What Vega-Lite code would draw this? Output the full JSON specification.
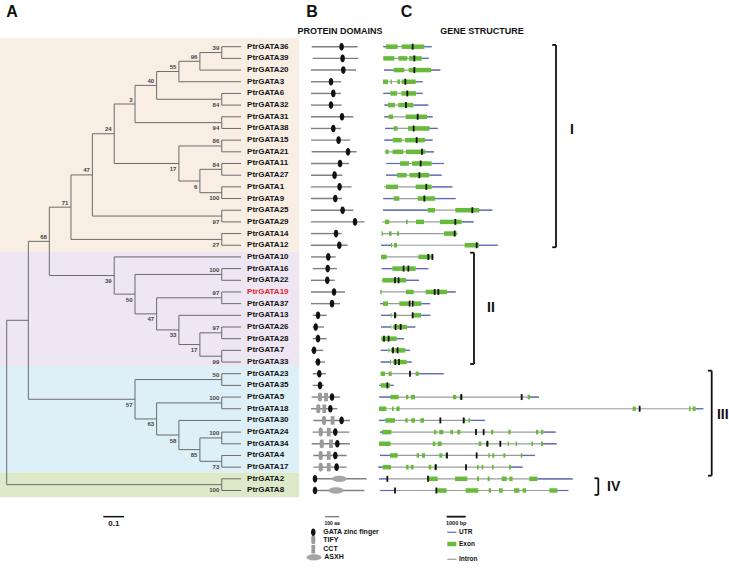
{
"$schema":"https://vega.github.io/schema/vega-lite/v6.json",
"width":729,"height":574,"padding":0,"autosize":{"type":"none"},"background":"white",
"config":{"view":{"stroke":null},"text":{"font":"Liberation Sans","fontWeight":"bold","baseline":"middle","color":"#111"}},
"datasets":{
"bands":[{"clade":"I","x":-0.032,"x2":1.393,"y":0.28,"y2":18.55},{"clade":"II","x":-0.032,"x2":1.393,"y":18.55,"y2":28.35},{"clade":"III","x":-0.032,"x2":1.393,"y":28.35,"y2":37.45},{"clade":"IV","x":-0.032,"x2":1.393,"y":37.45,"y2":39.58}],
"hedges":[{"x":0.92,"x2":1.024,"y":1.5},{"x":0.82,"x2":0.92,"y":2.25},{"x":0.714,"x2":0.82,"y":3.125},{"x":0.714,"x2":1.024,"y":5.5},{"x":0.611,"x2":0.714,"y":4.3125},{"x":0.611,"x2":1.024,"y":7.5},{"x":0.92,"x2":1.024,"y":11.5},{"x":0.92,"x2":1.024,"y":13.5},{"x":0.82,"x2":1.024,"y":9.5},{"x":0.82,"x2":0.92,"y":12.5},{"x":0.512,"x2":0.611,"y":5.906},{"x":0.512,"x2":0.82,"y":11.0},{"x":0.408,"x2":0.512,"y":8.453},{"x":0.408,"x2":1.024,"y":15.5},{"x":0.306,"x2":0.408,"y":11.977},{"x":0.306,"x2":1.024,"y":17.5},
{"x":0.92,"x2":1.024,"y":25.5},{"x":0.92,"x2":1.024,"y":27.5},{"x":0.82,"x2":0.92,"y":26.5},{"x":0.714,"x2":1.024,"y":22.5},{"x":0.714,"x2":0.82,"y":25.25},{"x":0.611,"x2":1.024,"y":20.5},{"x":0.611,"x2":0.714,"y":23.875},{"x":0.512,"x2":0.611,"y":22.188},{"x":0.203,"x2":0.306,"y":14.738},{"x":0.203,"x2":0.512,"y":20.594},
{"x":0.92,"x2":1.024,"y":34.5},{"x":0.92,"x2":1.024,"y":36.5},{"x":0.82,"x2":0.92,"y":35.5},{"x":0.714,"x2":1.024,"y":31.5},{"x":0.714,"x2":0.82,"y":34.25},{"x":0.611,"x2":1.024,"y":29.5},{"x":0.611,"x2":0.714,"y":32.875},{"x":0.103,"x2":0.203,"y":17.666},{"x":0.103,"x2":0.611,"y":31.188},{"x":0,"x2":0.103,"y":24.427},{"x":0,"x2":1.024,"y":38.5}],
"vedges":[{"x":1.024,"y":1,"y2":2},{"x":1.024,"y":5,"y2":6},{"x":1.024,"y":7,"y2":8},{"x":1.024,"y":9,"y2":10},{"x":1.024,"y":11,"y2":12},{"x":1.024,"y":13,"y2":14},{"x":1.024,"y":15,"y2":16},{"x":1.024,"y":17,"y2":18},{"x":1.024,"y":20,"y2":21},{"x":1.024,"y":22,"y2":23},{"x":1.024,"y":25,"y2":26},{"x":1.024,"y":27,"y2":28},{"x":1.024,"y":29,"y2":30},{"x":1.024,"y":31,"y2":32},{"x":1.024,"y":34,"y2":35},{"x":1.024,"y":36,"y2":37},{"x":1.024,"y":38,"y2":39},
{"x":0.92,"y":1.5,"y2":3},{"x":0.92,"y":11.5,"y2":13.5},{"x":0.92,"y":25.5,"y2":27.5},{"x":0.92,"y":34.5,"y2":36.5},
{"x":0.82,"y":2.25,"y2":4},{"x":0.82,"y":9.5,"y2":12.5},{"x":0.82,"y":24,"y2":26.5},{"x":0.82,"y":33,"y2":35.5},
{"x":0.714,"y":3.125,"y2":5.5},{"x":0.714,"y":22.5,"y2":25.25},{"x":0.714,"y":31.5,"y2":34.25},
{"x":0.611,"y":4.3125,"y2":7.5},{"x":0.611,"y":20.5,"y2":23.875},{"x":0.611,"y":29.5,"y2":32.875},
{"x":0.512,"y":5.906,"y2":11},{"x":0.512,"y":19,"y2":22.188},
{"x":0.408,"y":8.453,"y2":15.5},{"x":0.306,"y":11.977,"y2":17.5},{"x":0.203,"y":14.738,"y2":20.594},{"x":0.103,"y":17.666,"y2":31.188},{"x":0,"y":24.427,"y2":38.5}],
"leaves":[{"y":1,"name":"PtrGATA36","x":1.024,"x2":1.116},{"y":2,"name":"PtrGATA39","x":1.024,"x2":1.116},{"y":3,"name":"PtrGATA20","x":0.92,"x2":1.116},{"y":4,"name":"PtrGATA3","x":0.82,"x2":1.116},{"y":5,"name":"PtrGATA6","x":1.024,"x2":1.116},{"y":6,"name":"PtrGATA32","x":1.024,"x2":1.116},{"y":7,"name":"PtrGATA31","x":1.024,"x2":1.116},{"y":8,"name":"PtrGATA38","x":1.024,"x2":1.116},{"y":9,"name":"PtrGATA15","x":1.024,"x2":1.116},{"y":10,"name":"PtrGATA21","x":1.024,"x2":1.116},{"y":11,"name":"PtrGATA11","x":1.024,"x2":1.116},{"y":12,"name":"PtrGATA27","x":1.024,"x2":1.116},{"y":13,"name":"PtrGATA1","x":1.024,"x2":1.116},{"y":14,"name":"PtrGATA9","x":1.024,"x2":1.116},{"y":15,"name":"PtrGATA25","x":1.024,"x2":1.116},{"y":16,"name":"PtrGATA29","x":1.024,"x2":1.116},{"y":17,"name":"PtrGATA14","x":1.024,"x2":1.116},{"y":18,"name":"PtrGATA12","x":1.024,"x2":1.116},{"y":19,"name":"PtrGATA10","x":0.512,"x2":1.116},{"y":20,"name":"PtrGATA16","x":1.024,"x2":1.116},{"y":21,"name":"PtrGATA22","x":1.024,"x2":1.116},{"y":22,"name":"PtrGATA19","x":1.024,"x2":1.116},{"y":23,"name":"PtrGATA37","x":1.024,"x2":1.116},{"y":24,"name":"PtrGATA13","x":0.82,"x2":1.116},{"y":25,"name":"PtrGATA26","x":1.024,"x2":1.116},{"y":26,"name":"PtrGATA28","x":1.024,"x2":1.116},{"y":27,"name":"PtrGATA7","x":1.024,"x2":1.116},{"y":28,"name":"PtrGATA33","x":1.024,"x2":1.116},{"y":29,"name":"PtrGATA23","x":1.024,"x2":1.116},{"y":30,"name":"PtrGATA35","x":1.024,"x2":1.116},{"y":31,"name":"PtrGATA5","x":1.024,"x2":1.116},{"y":32,"name":"PtrGATA18","x":1.024,"x2":1.116},{"y":33,"name":"PtrGATA30","x":0.82,"x2":1.116},{"y":34,"name":"PtrGATA24","x":1.024,"x2":1.116},{"y":35,"name":"PtrGATA34","x":1.024,"x2":1.116},{"y":36,"name":"PtrGATA4","x":1.024,"x2":1.116},{"y":37,"name":"PtrGATA17","x":1.024,"x2":1.116},{"y":38,"name":"PtrGATA2","x":1.024,"x2":1.116},{"y":39,"name":"PtrGATA8","x":1.024,"x2":1.116}],
"support":[{"x":1.024,"y":1.5,"v":"39","p":"a"},{"x":0.92,"y":2.25,"v":"96","p":"a"},{"x":0.82,"y":3.125,"v":"55","p":"a"},{"x":1.024,"y":5.5,"v":"84","p":"b"},{"x":0.714,"y":4.3125,"v":"40","p":"a"},{"x":1.024,"y":7.5,"v":"94","p":"b"},{"x":0.611,"y":5.906,"v":"3","p":"a"},{"x":1.024,"y":9.5,"v":"86","p":"a"},{"x":1.024,"y":11.5,"v":"84","p":"a"},{"x":1.024,"y":13.5,"v":"100","p":"b"},{"x":0.92,"y":12.5,"v":"6","p":"b"},{"x":0.82,"y":11,"v":"17","p":"b"},{"x":0.512,"y":8.453,"v":"24","p":"a"},{"x":1.024,"y":15.5,"v":"97","p":"b"},{"x":0.408,"y":11.977,"v":"47","p":"a"},{"x":1.024,"y":17.5,"v":"27","p":"b"},{"x":0.306,"y":14.738,"v":"71","p":"a"},
{"x":1.024,"y":20.5,"v":"100","p":"a"},{"x":1.024,"y":22.5,"v":"97","p":"a"},{"x":1.024,"y":25.5,"v":"97","p":"a"},{"x":1.024,"y":27.5,"v":"99","p":"b"},{"x":0.92,"y":26.5,"v":"17","p":"b"},{"x":0.82,"y":25.25,"v":"33","p":"b"},{"x":0.714,"y":23.875,"v":"47","p":"b"},{"x":0.611,"y":22.188,"v":"50","p":"b"},{"x":0.512,"y":20.594,"v":"39","p":"b"},{"x":0.203,"y":17.666,"v":"68","p":"a"},
{"x":1.024,"y":29.5,"v":"50","p":"a"},{"x":1.024,"y":31.5,"v":"100","p":"a"},{"x":1.024,"y":34.5,"v":"100","p":"a"},{"x":1.024,"y":36.5,"v":"73","p":"b"},{"x":0.92,"y":35.5,"v":"85","p":"b"},{"x":0.82,"y":34.25,"v":"58","p":"b"},{"x":0.714,"y":32.875,"v":"63","p":"b"},{"x":0.611,"y":31.188,"v":"57","p":"b"},{"x":1.024,"y":38.5,"v":"100","p":"b"}],
"tbar":[{"x":0.46,"x2":0.559,"y":41.24}],
"ttext":[{"x":0.025,"y":-1.93,"t":"A","s":"h"},{"x":0.51,"y":41.85,"t":"0.1","s":"sc"}],
"prot":[{"y":1,"x":5,"x2":326},{"y":2,"x":12,"x2":331},{"y":3,"x":0,"x2":315},{"y":4,"x":0,"x2":210},{"y":5,"x":0,"x2":210},{"y":6,"x":0,"x2":214},{"y":7,"x":0,"x2":296},{"y":8,"x":0,"x2":210},{"y":9,"x":0,"x2":275},{"y":10,"x":5,"x2":319},{"y":11,"x":0,"x2":266},{"y":12,"x":0,"x2":219},{"y":13,"x":0,"x2":284},{"y":14,"x":0,"x2":217},{"y":15,"x":0,"x2":296},{"y":16,"x":0,"x2":375},{"y":17,"x":0,"x2":214},{"y":18,"x":0,"x2":256},{"y":19,"x":0,"x2":172},{"y":20,"x":12,"x2":182},{"y":21,"x":0,"x2":166},{"y":22,"x":0,"x2":238},{"y":23,"x":0,"x2":203},{"y":24,"x":12,"x2":110},{"y":25,"x":12,"x2":91},{"y":26,"x":12,"x2":110},{"y":27,"x":0,"x2":86},{"y":28,"x":28,"x2":98},{"y":29,"x":12,"x2":105},{"y":30,"x":12,"x2":91},{"y":31,"x":5,"x2":203},{"y":32,"x":0,"x2":184},{"y":33,"x":16,"x2":273},{"y":34,"x":12,"x2":268},{"y":35,"x":5,"x2":273},{"y":36,"x":16,"x2":249},{"y":37,"x":16,"x2":249},{"y":38,"x":16,"x2":389},{"y":39,"x":16,"x2":373},{"y":41.24,"x":98,"x2":198}],
"dom":[{"y":1,"x":214,"k":"G"},{"y":2,"x":221,"k":"G"},{"y":3,"x":226,"k":"G"},{"y":4,"x":140,"k":"G"},{"y":5,"x":156,"k":"G"},{"y":6,"x":140,"k":"G"},{"y":7,"x":217,"k":"G"},{"y":8,"x":156,"k":"G"},{"y":9,"x":193,"k":"G"},{"y":10,"x":259,"k":"G"},{"y":11,"x":203,"k":"G"},{"y":12,"x":165,"k":"G"},{"y":13,"x":200,"k":"G"},{"y":14,"x":170,"k":"G"},{"y":15,"x":221,"k":"G"},{"y":16,"x":308,"k":"G"},{"y":17,"x":175,"k":"G"},{"y":18,"x":198,"k":"G"},{"y":19,"x":121,"k":"G"},{"y":20,"x":117,"k":"G"},{"y":21,"x":114,"k":"G"},{"y":22,"x":161,"k":"G"},{"y":23,"x":147,"k":"G"},{"y":24,"x":49,"k":"G"},{"y":25,"x":33,"k":"G"},{"y":26,"x":49,"k":"G"},{"y":27,"x":21,"k":"G"},{"y":28,"x":49,"k":"G"},{"y":29,"x":58,"k":"G"},{"y":30,"x":63,"k":"G"},
{"y":31,"x":63,"k":"T"},{"y":31,"x":105,"k":"C"},{"y":31,"x":147,"k":"G"},{"y":32,"x":51,"k":"T"},{"y":32,"x":93,"k":"C"},{"y":32,"x":135,"k":"G"},{"y":33,"x":91,"k":"T"},{"y":33,"x":151,"k":"C"},{"y":33,"x":214,"k":"G"},{"y":34,"x":68,"k":"T"},{"y":34,"x":124,"k":"C"},{"y":34,"x":170,"k":"G"},{"y":35,"x":75,"k":"T"},{"y":35,"x":140,"k":"C"},{"y":35,"x":184,"k":"G"},{"y":36,"x":68,"k":"T"},{"y":36,"x":124,"k":"C"},{"y":36,"x":170,"k":"G"},{"y":37,"x":68,"k":"T"},{"y":37,"x":124,"k":"C"},{"y":37,"x":179,"k":"G"},{"y":38,"x":28,"k":"G"},{"y":38,"x":198,"k":"A"},{"y":39,"x":28,"k":"G"},{"y":39,"x":175,"k":"A"},
{"y":42.58,"x":16,"k":"G"},{"y":43.23,"x":16,"k":"T"},{"y":44.03,"x":16,"k":"C"},{"y":44.72,"x":21,"k":"A"}],
"ptext":[{"x":7,"y":-1.93,"t":"B","s":"h"},{"x":203,"y":-0.37,"t":"PROTEIN   DOMAINS","s":"sub"},{"x":148,"y":41.78,"t":"100 aa","s":"tiny"},{"x":86,"y":42.58,"t":"GATA zinc finger","s":"lg"},{"x":86,"y":43.23,"t":"TIFY","s":"lg"},{"x":86,"y":44.03,"t":"CCT","s":"lg"},{"x":93,"y":44.72,"t":"ASXH","s":"lg"}],
"gene":[
{"y":1,"k":"i","x":263,"x2":2807},{"y":1,"k":"u","x":263,"x2":404},{"y":1,"k":"u","x":2421,"x2":2807},{"y":1,"k":"e","x":404,"x2":1018},{"y":1,"k":"e","x":1228,"x2":2421},
{"y":2,"k":"i","x":263,"x2":2649},{"y":2,"k":"u","x":2281,"x2":2649},{"y":2,"k":"e","x":263,"x2":842},{"y":2,"k":"e","x":1053,"x2":1526},{"y":2,"k":"e","x":1614,"x2":2281},
{"y":3,"k":"i","x":298,"x2":3263},{"y":3,"k":"u","x":298,"x2":807},{"y":3,"k":"u","x":2772,"x2":3263},{"y":3,"k":"e","x":807,"x2":1368},{"y":3,"k":"e","x":1597,"x2":2772},
{"y":4,"k":"i","x":246,"x2":2333},{"y":4,"k":"u","x":1965,"x2":2333},{"y":4,"k":"e","x":246,"x2":509},{"y":4,"k":"e","x":649,"x2":719},{"y":4,"k":"e","x":1000,"x2":1140},{"y":4,"k":"e","x":1228,"x2":1965},
{"y":5,"k":"i","x":263,"x2":2333},{"y":5,"k":"u","x":263,"x2":632},{"y":5,"k":"u","x":1982,"x2":2333},{"y":5,"k":"e","x":632,"x2":982},{"y":5,"k":"e","x":1211,"x2":1982},
{"y":6,"k":"i","x":316,"x2":2632},{"y":6,"k":"u","x":316,"x2":509},{"y":6,"k":"u","x":1842,"x2":2632},{"y":6,"k":"e","x":509,"x2":877},{"y":6,"k":"e","x":1053,"x2":1842},
{"y":7,"k":"i","x":316,"x2":2860},{"y":7,"k":"u","x":316,"x2":544},{"y":7,"k":"u","x":2561,"x2":2860},{"y":7,"k":"e","x":544,"x2":772},{"y":7,"k":"e","x":1439,"x2":2561},
{"y":8,"k":"i","x":351,"x2":3123},{"y":8,"k":"u","x":351,"x2":807},{"y":8,"k":"u","x":2702,"x2":3123},{"y":8,"k":"e","x":807,"x2":1018},{"y":8,"k":"e","x":1561,"x2":2702},
{"y":9,"k":"i","x":316,"x2":2860},{"y":9,"k":"u","x":316,"x2":754},{"y":9,"k":"u","x":2456,"x2":2860},{"y":9,"k":"e","x":754,"x2":1228},{"y":9,"k":"e","x":1404,"x2":2456},
{"y":10,"k":"i","x":333,"x2":2930},{"y":10,"k":"u","x":2474,"x2":2930},{"y":10,"k":"e","x":386,"x2":544},{"y":10,"k":"e","x":754,"x2":1316},{"y":10,"k":"e","x":1456,"x2":2474},
{"y":11,"k":"i","x":421,"x2":3456},{"y":11,"k":"u","x":421,"x2":1140},{"y":11,"k":"u","x":2807,"x2":3456},{"y":11,"k":"e","x":1140,"x2":1614},{"y":11,"k":"e","x":1772,"x2":2807},
{"y":12,"k":"i","x":404,"x2":3333},{"y":12,"k":"u","x":404,"x2":982},{"y":12,"k":"u","x":2684,"x2":3333},{"y":12,"k":"e","x":982,"x2":1491},{"y":12,"k":"e","x":1649,"x2":2684},
{"y":13,"k":"i","x":298,"x2":3895},{"y":13,"k":"u","x":2807,"x2":3895},{"y":13,"k":"e","x":404,"x2":1035},{"y":13,"k":"e","x":1965,"x2":2807},
{"y":14,"k":"i","x":263,"x2":4070},{"y":14,"k":"u","x":263,"x2":807},{"y":14,"k":"u","x":2982,"x2":4070},{"y":14,"k":"e","x":807,"x2":1105},{"y":14,"k":"e","x":2070,"x2":2982},
{"y":15,"k":"i","x":246,"x2":6000},{"y":15,"k":"u","x":246,"x2":2596},{"y":15,"k":"u","x":5298,"x2":6000},{"y":15,"k":"e","x":2596,"x2":2982},{"y":15,"k":"e","x":4053,"x2":5298},
{"y":16,"k":"i","x":211,"x2":5018},{"y":16,"k":"u","x":4386,"x2":5018},{"y":16,"k":"e","x":351,"x2":579},{"y":16,"k":"e","x":1456,"x2":1544},{"y":16,"k":"e","x":1982,"x2":2404},{"y":16,"k":"e","x":3246,"x2":4386},
{"y":17,"k":"i","x":175,"x2":4175},{"y":17,"k":"e","x":175,"x2":246},{"y":17,"k":"e","x":561,"x2":702},{"y":17,"k":"e","x":982,"x2":1088},{"y":17,"k":"e","x":3456,"x2":4123},
{"y":18,"k":"i","x":140,"x2":6281},{"y":18,"k":"u","x":140,"x2":667},{"y":18,"k":"u","x":5298,"x2":6281},{"y":18,"k":"e","x":667,"x2":719},{"y":18,"k":"e","x":825,"x2":982},{"y":18,"k":"e","x":4544,"x2":5298},
{"y":19,"k":"i","x":140,"x2":2895},{"y":19,"k":"e","x":140,"x2":439},{"y":19,"k":"e","x":2105,"x2":2754},{"y":19,"k":"e","x":2807,"x2":2895},
{"y":20,"k":"i","x":175,"x2":2632},{"y":20,"k":"u","x":175,"x2":737},{"y":20,"k":"u","x":1965,"x2":2632},{"y":20,"k":"e","x":737,"x2":1316},{"y":20,"k":"e","x":1404,"x2":1544},{"y":20,"k":"e","x":1597,"x2":1965},
{"y":21,"k":"i","x":175,"x2":2140},{"y":21,"k":"u","x":1456,"x2":2140},{"y":21,"k":"e","x":211,"x2":842},{"y":21,"k":"e","x":930,"x2":1088},{"y":21,"k":"e","x":1123,"x2":1456},
{"y":22,"k":"i","x":105,"x2":4070},{"y":22,"k":"u","x":3614,"x2":4070},{"y":22,"k":"e","x":105,"x2":175},{"y":22,"k":"e","x":1456,"x2":1860},{"y":22,"k":"e","x":2491,"x2":2930},{"y":22,"k":"e","x":3000,"x2":3123},{"y":22,"k":"e","x":3175,"x2":3614},
{"y":23,"k":"i","x":105,"x2":2719},{"y":23,"k":"u","x":105,"x2":246},{"y":23,"k":"u","x":2263,"x2":2719},{"y":23,"k":"e","x":246,"x2":509},{"y":23,"k":"e","x":1105,"x2":1614},{"y":23,"k":"e","x":1842,"x2":2263},
{"y":24,"k":"i","x":140,"x2":2737},{"y":24,"k":"u","x":140,"x2":649},{"y":24,"k":"u","x":2246,"x2":2737},{"y":24,"k":"e","x":649,"x2":702},{"y":24,"k":"e","x":825,"x2":965},{"y":24,"k":"e","x":1807,"x2":2246},
{"y":25,"k":"i","x":140,"x2":1947},{"y":25,"k":"u","x":140,"x2":649},{"y":25,"k":"u","x":1509,"x2":1947},{"y":25,"k":"e","x":649,"x2":684},{"y":25,"k":"e","x":790,"x2":877},{"y":25,"k":"e","x":982,"x2":1158},{"y":25,"k":"e","x":1193,"x2":1509},
{"y":26,"k":"i","x":158,"x2":1351},{"y":26,"k":"u","x":965,"x2":1351},{"y":26,"k":"e","x":158,"x2":263},{"y":26,"k":"e","x":333,"x2":509},{"y":26,"k":"e","x":579,"x2":965},
{"y":27,"k":"i","x":123,"x2":1667},{"y":27,"k":"u","x":123,"x2":526},{"y":27,"k":"u","x":1421,"x2":1667},{"y":27,"k":"e","x":526,"x2":579},{"y":27,"k":"e","x":667,"x2":754},{"y":27,"k":"e","x":842,"x2":982},{"y":27,"k":"e","x":1070,"x2":1421},
{"y":28,"k":"i","x":123,"x2":1754},{"y":28,"k":"u","x":123,"x2":614},{"y":28,"k":"u","x":1491,"x2":1754},{"y":28,"k":"e","x":614,"x2":667},{"y":28,"k":"e","x":790,"x2":877},{"y":28,"k":"e","x":930,"x2":1070},{"y":28,"k":"e","x":1105,"x2":1491},
{"y":29,"k":"i","x":123,"x2":3439},{"y":29,"k":"u","x":2123,"x2":3439},{"y":29,"k":"e","x":123,"x2":351},{"y":29,"k":"e","x":544,"x2":702},{"y":29,"k":"e","x":1965,"x2":2123},
{"y":30,"k":"i","x":53,"x2":807},{"y":30,"k":"u","x":53,"x2":123},{"y":30,"k":"u","x":614,"x2":807},{"y":30,"k":"e","x":123,"x2":439},{"y":30,"k":"e","x":509,"x2":614},
{"y":31,"k":"i","x":53,"x2":8456},{"y":31,"k":"u","x":53,"x2":632},{"y":31,"k":"u","x":7982,"x2":8456},{"y":31,"k":"e","x":632,"x2":1070},{"y":31,"k":"e","x":1456,"x2":1579},{"y":31,"k":"e","x":1719,"x2":1930},{"y":31,"k":"e","x":3930,"x2":4105},{"y":31,"k":"e","x":4281,"x2":4421},{"y":31,"k":"e","x":7860,"x2":7982},
{"y":32,"k":"i","x":35,"x2":17105},{"y":32,"k":"u","x":16702,"x2":17105},{"y":32,"k":"e","x":35,"x2":421},{"y":32,"k":"e","x":719,"x2":807},{"y":32,"k":"e","x":947,"x2":1123},{"y":32,"k":"e","x":13386,"x2":13544},{"y":32,"k":"e","x":16351,"x2":16439},{"y":32,"k":"e","x":16544,"x2":16702},
{"y":33,"k":"i","x":35,"x2":5614},{"y":33,"k":"u","x":35,"x2":368},{"y":33,"k":"u","x":4825,"x2":5614},{"y":33,"k":"e","x":368,"x2":877},{"y":33,"k":"e","x":1421,"x2":1544},{"y":33,"k":"e","x":1737,"x2":1930},{"y":33,"k":"e","x":2211,"x2":2404},{"y":33,"k":"e","x":4474,"x2":4579},{"y":33,"k":"e","x":4737,"x2":4825},
{"y":34,"k":"i","x":88,"x2":9333},{"y":34,"k":"u","x":88,"x2":193},{"y":34,"k":"u","x":8684,"x2":9333},{"y":34,"k":"e","x":193,"x2":684},{"y":34,"k":"e","x":2930,"x2":3053},{"y":34,"k":"e","x":3211,"x2":3421},{"y":34,"k":"e","x":3789,"x2":3930},{"y":34,"k":"e","x":4158,"x2":4316},{"y":34,"k":"e","x":5930,"x2":6053},{"y":34,"k":"e","x":6842,"x2":6965},{"y":34,"k":"e","x":8298,"x2":8421},{"y":34,"k":"e","x":8561,"x2":8684},
{"y":35,"k":"i","x":35,"x2":9386},{"y":35,"k":"u","x":8667,"x2":9386},{"y":35,"k":"e","x":35,"x2":649},{"y":35,"k":"e","x":2860,"x2":3000},{"y":35,"k":"e","x":3123,"x2":3333},{"y":35,"k":"e","x":5281,"x2":5421},{"y":35,"k":"e","x":5667,"x2":5807},{"y":35,"k":"e","x":6807,"x2":6877},{"y":35,"k":"e","x":7228,"x2":7298},{"y":35,"k":"e","x":8053,"x2":8140},{"y":35,"k":"e","x":8561,"x2":8667},
{"y":36,"k":"i","x":88,"x2":8246},{"y":36,"k":"u","x":88,"x2":614},{"y":36,"k":"u","x":7579,"x2":8246},{"y":36,"k":"e","x":614,"x2":1018},{"y":36,"k":"e","x":2018,"x2":2140},{"y":36,"k":"e","x":2298,"x2":2456},{"y":36,"k":"e","x":3211,"x2":3368},{"y":36,"k":"e","x":3526,"x2":3649},{"y":36,"k":"e","x":5789,"x2":5860},{"y":36,"k":"e","x":6000,"x2":6105},{"y":36,"k":"e","x":6579,"x2":6684},{"y":36,"k":"e","x":7491,"x2":7579},
{"y":37,"k":"i","x":0,"x2":7596},{"y":37,"k":"u","x":0,"x2":228},{"y":37,"k":"u","x":6982,"x2":7596},{"y":37,"k":"e","x":228,"x2":667},{"y":37,"k":"e","x":1456,"x2":1596},{"y":37,"k":"e","x":1702,"x2":1860},{"y":37,"k":"e","x":2649,"x2":2789},{"y":37,"k":"e","x":2947,"x2":3088},{"y":37,"k":"e","x":5193,"x2":5281},{"y":37,"k":"e","x":5439,"x2":5526},{"y":37,"k":"e","x":5982,"x2":6070},{"y":37,"k":"e","x":6877,"x2":6982},
{"y":38,"k":"i","x":35,"x2":10228},{"y":38,"k":"u","x":35,"x2":474},{"y":38,"k":"u","x":8368,"x2":10228},{"y":38,"k":"e","x":2649,"x2":3123},{"y":38,"k":"e","x":4035,"x2":4684},{"y":38,"k":"e","x":5193,"x2":5298},{"y":38,"k":"e","x":5754,"x2":5860},{"y":38,"k":"e","x":6491,"x2":6754},{"y":38,"k":"e","x":6895,"x2":7070},{"y":38,"k":"e","x":7947,"x2":8368},
{"y":39,"k":"i","x":88,"x2":10000},{"y":39,"k":"u","x":88,"x2":877},{"y":39,"k":"u","x":9421,"x2":10000},{"y":39,"k":"e","x":3070,"x2":3596},{"y":39,"k":"e","x":4596,"x2":5263},{"y":39,"k":"e","x":5807,"x2":5930},{"y":39,"k":"e","x":6351,"x2":6544},{"y":39,"k":"e","x":7140,"x2":7421},{"y":39,"k":"e","x":7596,"x2":7772},{"y":39,"k":"e","x":9000,"x2":9421},
{"y":42.58,"k":"u","x":3630,"x2":4104},{"y":43.58,"k":"e","x":3630,"x2":4104},{"y":44.89,"k":"i","x":3630,"x2":4104}],
"gm":[{"y":1,"x":1807},{"y":2,"x":1895},{"y":3,"x":1895},{"y":4,"x":1421},{"y":5,"x":1526},{"y":6,"x":1456},{"y":7,"x":2070},{"y":8,"x":1860},{"y":9,"x":2018},{"y":10,"x":2298},{"y":11,"x":2228},{"y":12,"x":2158},{"y":13,"x":2526},{"y":14,"x":2421},{"y":15,"x":4947},{"y":16,"x":4053},{"y":17,"x":4018},{"y":18,"x":5175},{"y":19,"x":2632},{"y":19,"x":2842},{"y":20,"x":1333},{"y":20,"x":1579},{"y":21,"x":877},{"y":21,"x":1070},{"y":22,"x":2965},{"y":22,"x":3158},{"y":23,"x":1649},{"y":23,"x":1807},{"y":24,"x":877},{"y":24,"x":1807},{"y":25,"x":912},{"y":25,"x":1175},{"y":26,"x":298},{"y":26,"x":544},{"y":27,"x":772},{"y":27,"x":1018},{"y":28,"x":895},{"y":28,"x":1088},{"y":29,"x":1667},{"y":30,"x":474},{"y":31,"x":4368},{"y":31,"x":7544},{"y":32,"x":13754},{"y":33,"x":3263},{"y":33,"x":4491},{"y":34,"x":5140},{"y":34,"x":5544},{"y":35,"x":5737},{"y":35,"x":6421},{"y":36,"x":3614},{"y":36,"x":5175},{"y":37,"x":3018},{"y":37,"x":4614},{"y":38,"x":474},{"y":38,"x":2614},{"y":39,"x":877},{"y":39,"x":3053}],
"brk":[{"x":9351,"x2":9351,"y":0.85,"y2":18.17},{"x":9151,"x2":9351,"y":0.85,"y2":0.85},{"x":9151,"x2":9351,"y":18.17,"y2":18.17},
{"x":5035,"x2":5035,"y":18.64,"y2":28.17},{"x":4835,"x2":5035,"y":18.64,"y2":18.64},{"x":4835,"x2":5035,"y":28.17,"y2":28.17},
{"x":17546,"x2":17546,"y":28.74,"y2":37.73},{"x":17346,"x2":17546,"y":28.74,"y2":28.74},{"x":17346,"x2":17546,"y":37.73,"y2":37.73},
{"x":11577,"x2":11577,"y":37.95,"y2":39.38},{"x":11377,"x2":11577,"y":37.95,"y2":37.95},{"x":11377,"x2":11577,"y":39.38,"y2":39.38},
{"x":3598,"x2":4598,"y":41.24,"y2":41.24}],
"gtext":[{"x":1483,"y":-1.93,"t":"C","s":"h"},{"x":5456,"y":-0.37,"t":"GENE  STRUCTURE","s":"sub"},{"x":4098,"y":41.78,"t":"1000 bp","s":"tiny"},{"x":4246,"y":42.58,"t":"UTR","s":"lg"},{"x":4246,"y":43.58,"t":"Exon","s":"lg"},{"x":4246,"y":44.89,"t":"Intron","s":"lg"},{"x":10193,"y":8.13,"t":"I","s":"cl"},{"x":5930,"y":23.37,"t":"II","s":"cl"},{"x":18125,"y":32.53,"t":"III","s":"cl"},{"x":12386,"y":38.67,"t":"IV","s":"cl"}]
},
"encoding":{"y":{"field":"y","type":"quantitative","scale":{"domain":[-3,46.15],"reverse":true,"nice":false,"zero":false},"axis":null}},
"layer":[
{"encoding":{"x":{"field":"x","type":"quantitative","scale":{"domain":[-0.0319,3.4395],"nice":false,"zero":false},"axis":null}},
 "layer":[
  {"data":{"name":"bands"},"mark":{"type":"rect"},"encoding":{"x2":{"field":"x2"},"y2":{"field":"y2"},"color":{"field":"clade","type":"nominal","scale":{"domain":["I","II","III","IV"],"range":["#f8eee4","#eee6f3","#ddeff7","#dde9c8"]},"legend":null}}},
  {"data":{"name":"hedges"},"mark":{"type":"rule","color":"#6b6b6b","strokeWidth":1},"encoding":{"x2":{"field":"x2"}}},
  {"data":{"name":"vedges"},"mark":{"type":"rule","color":"#6b6b6b","strokeWidth":1},"encoding":{"y2":{"field":"y2"}}},
  {"data":{"name":"leaves"},"mark":{"type":"rule","color":"#6b6b6b","strokeWidth":1},"encoding":{"x2":{"field":"x2"}}},
  {"data":{"name":"leaves"},"mark":{"type":"text","align":"left","dx":6,"fontSize":8},"encoding":{"x":{"field":"x2","type":"quantitative","scale":{"domain":[-0.0319,3.4395],"nice":false,"zero":false},"axis":null},"text":{"field":"name"},"color":{"condition":{"test":"datum.name==='PtrGATA19'","value":"#e8232d"},"value":"#111"}}},
  {"data":{"name":"support"},"transform":[{"filter":"datum.p==='a'"}],"mark":{"type":"text","align":"right","dx":-2.5,"dy":-4.5,"fontSize":6,"color":"#444"},"encoding":{"text":{"field":"v"}}},
  {"data":{"name":"support"},"transform":[{"filter":"datum.p==='b'"}],"mark":{"type":"text","align":"right","dx":-2.5,"dy":5.5,"fontSize":6,"color":"#444"},"encoding":{"text":{"field":"v"}}},
  {"data":{"name":"tbar"},"mark":{"type":"rule","color":"#111","strokeWidth":1.5},"encoding":{"x2":{"field":"x2"}}},
  {"data":{"name":"ttext"},"transform":[{"filter":"datum.s==='h'"}],"mark":{"type":"text","align":"center","fontSize":16},"encoding":{"text":{"field":"t"}}},
  {"data":{"name":"ttext"},"transform":[{"filter":"datum.s==='sc'"}],"mark":{"type":"text","align":"center","fontSize":8},"encoding":{"text":{"field":"t"}}}
 ]},
{"encoding":{"x":{"field":"x","type":"quantitative","scale":{"domain":[-2174.8,2923.1],"nice":false,"zero":false},"axis":null}},
 "layer":[
  {"data":{"name":"prot"},"mark":{"type":"rule","color":"#808080","strokeWidth":1.4},"encoding":{"x2":{"field":"x2"}}},
  {"data":{"name":"dom"},"transform":[{"filter":"datum.k==='T'"}],"mark":{"type":"point","shape":"M-0.45,-0.55 A0.45,0.45 0 0 1 0.45,-0.55 L0.45,0.55 A0.45,0.45 0 0 1 -0.45,0.55 Z","filled":true,"size":81,"color":"#9a9a9a","opacity":1}},
  {"data":{"name":"dom"},"transform":[{"filter":"datum.k==='C'"}],"mark":{"type":"point","shape":"M-0.45,-1 L0.45,-1 L0.45,1 L-0.45,1 Z","filled":true,"size":72,"color":"#9a9a9a","opacity":1}},
  {"data":{"name":"dom"},"transform":[{"filter":"datum.k==='A'"}],"mark":{"type":"point","shape":"M-1,0 A1,0.42 0 1 1 1,0 A1,0.42 0 1 1 -1,0 Z","filled":true,"size":225,"color":"#a5a5a5","opacity":1}},
  {"data":{"name":"dom"},"transform":[{"filter":"datum.k==='G'"}],"mark":{"type":"point","shape":"M0,-1 A0.6,1 0 1 1 0,1 A0.6,1 0 1 1 0,-1 Z","filled":true,"size":58,"color":"#111","opacity":1}},
  {"data":{"name":"ptext"},"transform":[{"filter":"datum.s==='h'"}],"mark":{"type":"text","align":"center","fontSize":16},"encoding":{"text":{"field":"t"}}},
  {"data":{"name":"ptext"},"transform":[{"filter":"datum.s==='sub'"}],"mark":{"type":"text","align":"center","fontSize":9},"encoding":{"text":{"field":"t"}}},
  {"data":{"name":"ptext"},"transform":[{"filter":"datum.s==='tiny'"}],"mark":{"type":"text","align":"center","fontSize":5},"encoding":{"text":{"field":"t"}}},
  {"data":{"name":"ptext"},"transform":[{"filter":"datum.s==='lg'"}],"mark":{"type":"text","align":"left","fontSize":7},"encoding":{"text":{"field":"t"}}}
 ]},
{"encoding":{"x":{"field":"x","type":"quantitative","scale":{"domain":[-19912,18456],"nice":false,"zero":false},"axis":null}},
 "layer":[
  {"data":{"name":"gene"},"transform":[{"filter":"datum.k==='i'"}],"mark":{"type":"rule","color":"#9c9c9c","strokeWidth":1.2},"encoding":{"x2":{"field":"x2"}}},
  {"data":{"name":"gene"},"transform":[{"filter":"datum.k==='u'"}],"mark":{"type":"rule","color":"#5a67c4","strokeWidth":1.2},"encoding":{"x2":{"field":"x2"}}},
  {"data":{"name":"gene"},"transform":[{"filter":"datum.k==='e'"}],"mark":{"type":"rule","color":"#68bb3a","strokeWidth":4.5,"strokeCap":"butt"},"encoding":{"x2":{"field":"x2"}}},
  {"data":{"name":"gm"},"mark":{"type":"point","shape":"M-0.3,-1 L0.3,-1 L0.3,1 L-0.3,1 Z","filled":true,"size":36,"color":"#111","opacity":1}},
  {"data":{"name":"brk"},"mark":{"type":"rule","color":"#111","strokeWidth":1.8},"encoding":{"x2":{"field":"x2"},"y2":{"field":"y2"}}},
  {"data":{"name":"gtext"},"transform":[{"filter":"datum.s==='h'"}],"mark":{"type":"text","align":"center","fontSize":16},"encoding":{"text":{"field":"t"}}},
  {"data":{"name":"gtext"},"transform":[{"filter":"datum.s==='sub'"}],"mark":{"type":"text","align":"center","fontSize":9},"encoding":{"text":{"field":"t"}}},
  {"data":{"name":"gtext"},"transform":[{"filter":"datum.s==='tiny'"}],"mark":{"type":"text","align":"center","fontSize":5.5},"encoding":{"text":{"field":"t"}}},
  {"data":{"name":"gtext"},"transform":[{"filter":"datum.s==='lg'"}],"mark":{"type":"text","align":"left","fontSize":6.5},"encoding":{"text":{"field":"t"}}},
  {"data":{"name":"gtext"},"transform":[{"filter":"datum.s==='cl'"}],"mark":{"type":"text","align":"center","fontSize":14},"encoding":{"text":{"field":"t"}}}
 ]}
],
"resolve":{"scale":{"x":"independent"}}
}
